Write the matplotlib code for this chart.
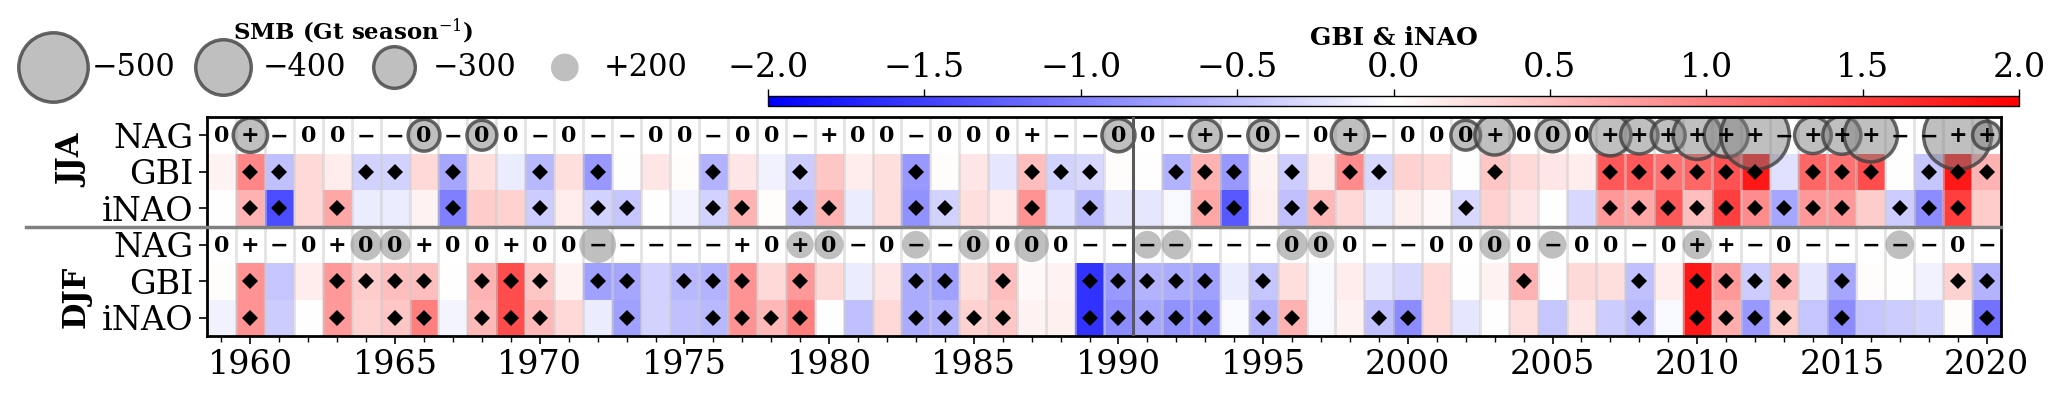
import numpy as np
import matplotlib
matplotlib.use('Agg')
import matplotlib.pyplot as plt

plt.rcParams['font.family'] = 'DejaVu Serif'
plt.rcParams['mathtext.fontset'] = 'dejavuserif'

years = np.arange(1959, 2021)

# NAG phase per year ('+', '-', '0')
jja_nag = ("0+-00--0-0" "0-0--00-00" "-+00-000+-" "-00-+-0-0+"
           "-000+000++" "++++-+++--" "++")
djf_nag = ("0+-0+00+00" "+00-----+0" "+0-0--0000" "-------000"
           "--0000-00-" "0++-0-----" "0-")

# SMB (Gt/season) shown as circles, only for the marked years
jja_smb_years = [1960, 1966, 1968, 1990, 1993, 1995, 1998, 2002, 2003, 2005, 2007,
                 2008, 2009, 2010, 2011, 2012, 2014, 2015, 2016, 2019, 2020]
jja_smb = [-247, -229, -215, -238, -231, -221, -269, -214, -285, -238, -297,
           -269, -245, -348, -317, -493, -264, -274, -384, -490, -200]
djf_smb_years = [1964, 1965, 1972, 1979, 1980, 1983, 1985, 1987, 1991, 1992,
                 1996, 1997, 2003, 2005, 2010, 2017]
djf_smb = [227, 221, 265, 195, 210, 200, 218, 250, 200, 212,
           225, 192, 218, 200, 209, 206]

jja_gbi = [0.1, 0.95, -0.5, 0.3, 0.15, -0.35, -0.35, 0.3, -0.7, 0.25,
           -0.15, -0.55, 0.25, -0.8, 0.0, 0.2, 0.02, -0.6, 0.2, -0.1,
           -0.4, 0.45, 0.15, 0.25, -0.8, 0.03, 0.2, -0.2, 0.5, -0.35,
           -0.3, 0.02, 0.0, -0.6, 0.6, -0.8, 0.1, -0.4, 0.15, 0.9,
           -0.3, 0.35, 0.3, 0.0, 0.45, 0.3, 0.2, 0.15, 1.3, 1.3,
           1.1, 1.2, 1.35, 1.8, -0.25, 1.2, 1.1, 1.4, 0.0, -0.45,
           1.8, 0.6]
jja_inao = [0.0, 0.6, -1.4, 0.3, 0.7, -0.15, -0.15, 0.1, -1.0, 0.4,
            0.35, -0.4, 0.15, -0.35, -0.45, 0.0, -0.08, -0.35, 0.6, 0.02,
            -0.5, 0.6, -0.15, 0.25, -0.85, -0.35, 0.25, 0.15, 0.85, -0.25,
            -0.55, -0.2, -0.2, -0.05, 0.7, -1.3, 0.12, -0.5, 0.55, 0.3,
            -0.15, 0.12, 0.05, -0.3, 0.35, 0.2, 0.0, -0.3, 0.8, 0.7,
            1.3, 0.5, 1.5, 0.9, -0.7, 0.8, 0.8, 0.4, -0.4, -0.9,
            1.5, 0.4]
djf_gbi = [0.02, 0.85, -0.45, 0.15, 0.8, 0.4, 0.5, 0.5, 0.0, 0.6,
           1.4, 0.45, 0.1, -0.75, -0.7, -0.35, -0.55, -0.6, 0.85, 0.3,
           0.8, 0.3, -0.15, 0.2, -0.65, -0.75, 0.25, 0.5, 0.05, 0.1,
           -1.6, -0.8, -0.6, -0.65, -0.75, -0.15, -0.45, 0.25, -0.05, 0.15,
           -0.2, -0.3, 0.3, 0.0, 0.1, 0.6, 0.0, 0.3, 0.25, -0.5,
           0.15, 1.8, 0.8, -0.4, 0.55, -0.2, -0.7, 0.02, 0.0, -0.1,
           0.35, -0.6]
djf_inao = [-0.1, 0.85, -0.4, 0.0, 0.8, 0.35, 0.45, 1.0, -0.08, 0.55,
            1.4, 0.55, 0.3, -0.15, -0.75, -0.35, -0.5, -0.55, 0.85, 0.55,
            1.0, 0.0, -0.5, 0.3, -0.65, -0.6, 0.35, 0.45, 0.1, 0.12,
            -1.6, -0.9, -0.7, -0.85, -0.85, -0.05, -0.6, 0.6, -0.05, 0.1,
            -0.5, -0.9, 0.3, -0.2, 0.0, 0.25, -0.45, 0.2, -0.4, -0.55,
            -0.05, 1.8, 0.65, -0.8, 0.4, -0.45, -0.9, -0.45, -0.4, -0.35,
            0.03, -1.1]

# years flagged as significant (diamonds)
jja_gbi_sig = [1960, 1961, 1964, 1965, 1967, 1970, 1972, 1976, 1979, 1983, 1987,
               1988, 1989, 1992, 1993, 1994, 1996, 1998, 1999, 2003, 2007, 2008,
               2009, 2010, 2011, 2012, 2014, 2015, 2016, 2018, 2019, 2020]
jja_inao_sig = [1960, 1961, 1963, 1967, 1970, 1972, 1973, 1976, 1977, 1979, 1980,
                1983, 1984, 1987, 1989, 1993, 1994, 1996, 1997, 2002, 2007, 2008,
                2009, 2010, 2011, 2012, 2013, 2014, 2015, 2017, 2018, 2019]
djf_gbi_sig = [1960, 1963, 1964, 1965, 1966, 1968, 1969, 1970, 1972, 1973, 1975,
               1976, 1977, 1979, 1983, 1984, 1986, 1989, 1990, 1991, 1992, 1993,
               1995, 2004, 2008, 2010, 2011, 2012, 2013, 2015, 2019, 2020]
djf_inao_sig = [1960, 1963, 1965, 1966, 1968, 1969, 1970, 1973, 1976, 1977, 1978,
                1979, 1983, 1984, 1985, 1986, 1989, 1990, 1991, 1992, 1993, 1995,
                1996, 1999, 2000, 2008, 2010, 2011, 2012, 2013, 2015, 2020]

row_labels = ['NAG', 'GBI', 'iNAO', 'NAG', 'GBI', 'iNAO']
legend_vals = [-500, -400, -300, 200]

W, H = 2067, 393
fig = plt.figure(figsize=(W / 100, H / 100), dpi=100)
ax = fig.add_axes([207 / W, 1 - 336 / H, 1794 / W, 219 / H])

nan_row = [np.nan] * len(years)
grid = np.ma.masked_invalid(np.array([nan_row, jja_gbi, jja_inao,
                                      nan_row, djf_gbi, djf_inao], dtype=float))
x_edges = np.append(years - 0.5, years[-1] + 0.5)
y_edges = np.arange(7)
mesh = ax.pcolormesh(x_edges, y_edges, grid, cmap='bwr', vmin=-2, vmax=2, zorder=0)

ax.vlines(years[:-1] + 0.5, 0, 6, color='0.8', lw=2, alpha=0.55, zorder=1)


def smb_size(v):
    return (0.1 * np.abs(np.asarray(v, dtype=float))) ** 2


neg_style = dict(facecolor=(0.5, 0.5, 0.5, 0.5), edgecolor=(0.25, 0.25, 0.25, 0.8),
                 linewidth=2.5)
pos_style = dict(facecolor=(0.5, 0.5, 0.5, 0.5), edgecolor='none', linewidth=0)

ax.scatter(jja_smb_years, [0.5] * len(jja_smb_years), s=smb_size(jja_smb),
           zorder=2, **neg_style)
ax.scatter(djf_smb_years, [3.5] * len(djf_smb_years), s=smb_size(djf_smb),
           zorder=2, **pos_style)

for row, phases in [(0, jja_nag), (3, djf_nag)]:
    for yr, p in zip(years, phases):
        ax.text(yr, row + 0.53, p.replace('-', '\u2212'), ha='center', va='center',
                fontsize=16, fontweight='bold', zorder=4)

for row, sig in [(1, jja_gbi_sig), (2, jja_inao_sig), (4, djf_gbi_sig), (5, djf_inao_sig)]:
    ax.plot(sig, [row + 0.5] * len(sig), 'D', color='k', ms=8.5, mew=0, zorder=4)

ax.axhline(3, xmin=-0.101, xmax=1.0, color='0.5', lw=2.5, clip_on=False, zorder=6)
ax.axvline(1990.5, color='0.35', lw=2.2, zorder=6)

ax.set_xlim(years[0] - 0.5, years[-1] + 0.5)
ax.set_ylim(6, 0)
ax.set_xticks(np.arange(1960, 2021, 5))
ax.set_xticks(years, minor=True)
ax.set_yticks(np.arange(6) + 0.5)
ax.set_yticklabels(row_labels)
ax.tick_params(axis='both', which='major', labelsize=24, length=6, width=1.2)
ax.tick_params(axis='x', which='minor', length=4, width=1)
for s in ax.spines.values():
    s.set_linewidth(2)

ax.text(-0.075, 0.80, 'JJA', transform=ax.transAxes, rotation=90, ha='center',
        va='center', fontsize=22, fontweight='bold')
ax.text(-0.073, 0.18, 'DJF', transform=ax.transAxes, rotation=90, ha='center',
        va='center', fontsize=22, fontweight='bold')

# size legend
handles = []
for v in legend_vals:
    style = neg_style if v < 0 else pos_style
    handles.append(ax.scatter([], [], s=smb_size([v]), **style))
labels = [f'{v:+d}'.replace('-', '\u2212') for v in legend_vals]
ax.legend(handles, labels, loc='center left', bbox_to_anchor=(22 / W, 1 - 67 / H),
          bbox_transform=fig.transFigure, ncol=4, frameon=False, fontsize=22,
          handlelength=2, handletextpad=0.28, columnspacing=0.57,
          borderpad=0, borderaxespad=0)
fig.text(353 / W, 1 - 31 / H, 'SMB (Gt season$^{-1}$)', ha='center', va='center',
         fontsize=16.5, fontweight='bold')

# colorbar
cax = fig.add_axes([768 / W, 1 - 106 / H, (2019 - 768) / W, 10.4 / H])
cb = fig.colorbar(mesh, cax=cax, orientation='horizontal',
                  ticks=np.arange(-2, 2.01, 0.5))
cb.ax.xaxis.set_ticks_position('top')
cb.ax.xaxis.set_label_position('top')
cb.set_label('GBI & iNAO', fontsize=18, fontweight='bold', labelpad=5)
cb.ax.tick_params(labelsize=24, length=5, width=1)
cb.outline.set_linewidth(1)

fig.savefig('out.png', dpi=100)
